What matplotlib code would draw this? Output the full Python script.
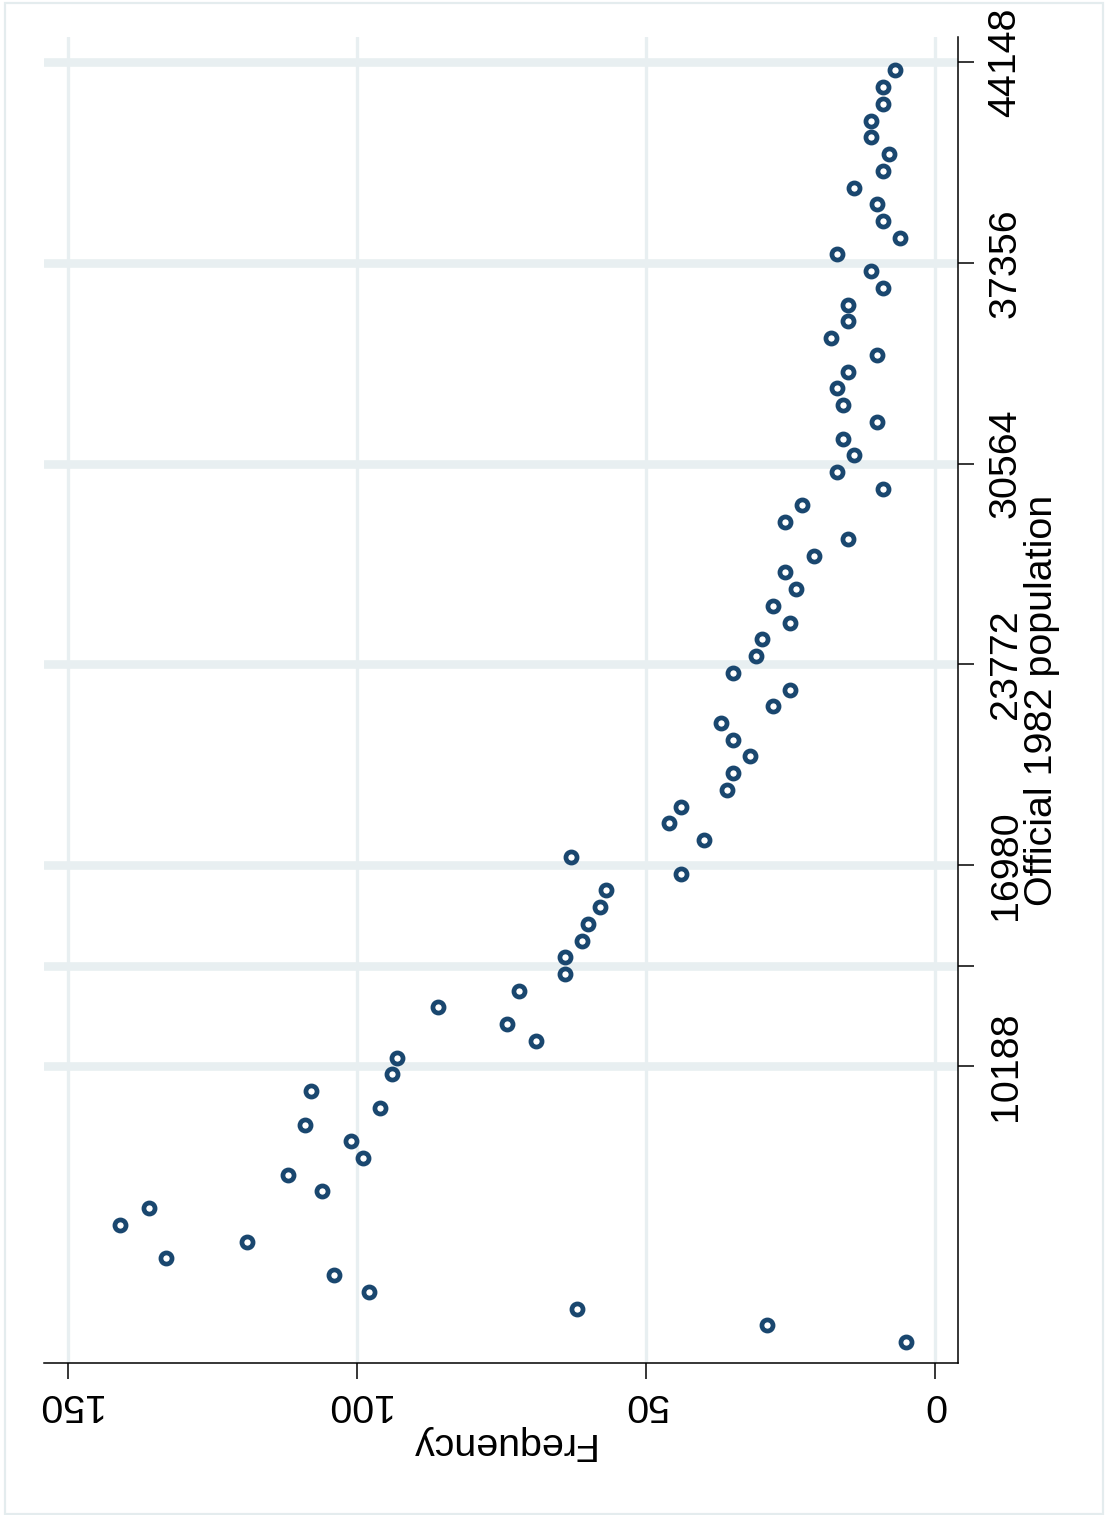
import matplotlib
matplotlib.use("Agg")
import matplotlib.pyplot as plt
from matplotlib.patches import Rectangle

# ---- data (histogram-style frequency points, bin midpoints) ----
population = [849, 1415, 1981, 2547, 3113, 3679, 4245, 4811, 5377, 5943,
              6509, 7075, 7641, 8207, 8773, 9339, 9905, 10471, 11037, 11603,
              12169, 12735, 13301, 13867, 14433, 14999, 15565, 16131, 16697, 17263,
              17829, 18395, 18961, 19527, 20093, 20659, 21225, 21791, 22357, 22923,
              23489, 24055, 24621, 25187, 25753, 26319, 26885, 27451, 28017, 28583,
              29149, 29715, 30281, 30847, 31413, 31979, 32545, 33111, 33677, 34243,
              34809, 35375, 35941, 36507, 37073, 37639, 38205, 38771, 39337, 39903,
              40469, 41035, 41601, 42167, 42733, 43299, 43865]
frequency = [5, 29, 62, 98, 104, 133, 119, 141, 136, 106,
             112, 99, 101, 109, 96, 108, 94, 93, 69, 74,
             86, 72, 64, 64, 61, 60, 58, 57, 44, 63,
             40, 46, 44, 36, 35, 32, 35, 37, 28, 25,
             35, 31, 30, 25, 28, 24, 26, 21, 15, 26,
             23, 9, 17, 14, 16, 10, 16, 17, 15, 10,
             18, 15, 15, 9, 11, 17, 6, 9, 10, 14,
             9, 8, 11, 11, 9, 9, 7]

freq_ticks = [0, 50, 100, 150]
freq_labels = ["0", "50", "100", "150"]
pop_ticks = [10188, 13584, 16980, 23772, 30564, 37356, 44148]
pop_labels = ["10188", "", "16980", "23772", "30564", "37356", "44148"]

NAVY = "#1a476f"
GRID = "#e8eff1"
FS = 28.4

plt.rcParams["font.family"] = ["Liberation Sans", "DejaVu Sans"]

W, H = 1107, 1515
fig = plt.figure(figsize=(W / 100, H / 100), dpi=100)
fig.patch.set_facecolor("white")

# outer light border
fig.add_artist(Rectangle((5 / W, 1 / H), (1103 - 5) / W, (1512 - 1) / H,
                         transform=fig.transFigure, fill=False,
                         edgecolor="#e4ecee", linewidth=1.6))

ax = fig.add_axes([44 / W, 1 - 1363 / H, 914 / W, 1326 / H])
ax.set_facecolor("white")
ax.set_axisbelow(True)

ax.plot(frequency, population, linestyle="none", marker="o",
        markersize=8.0, markeredgewidth=3.4, markeredgecolor=NAVY,
        markerfacecolor="white", zorder=3)

ax.set_xlim(154.15, -3.98)
ax.set_ylim(142, 44994)

ax.set_xticks(freq_ticks)
ax.set_xticklabels(freq_labels, rotation=180, fontsize=FS)
ax.yaxis.tick_right()
ax.set_yticks(pop_ticks)
ax.set_yticklabels(pop_labels, rotation=90, fontsize=FS, va="center")

ax.grid(axis="x", color=GRID, linewidth=2.4, solid_capstyle="round")
ax.grid(axis="y", color=GRID, linewidth=6.2, solid_capstyle="round")

for s in ["left", "top"]:
    ax.spines[s].set_visible(False)
for s in ["right", "bottom"]:
    ax.spines[s].set_color("black")
    ax.spines[s].set_linewidth(1.1)

ax.tick_params(axis="x", direction="out", length=11.5, width=1.1, pad=5.0)
ax.tick_params(axis="y", direction="out", length=11.5, width=1.1, pad=9.8,
               right=True, left=False, labelright=True, labelleft=False)

ax.set_xlabel("Frequency", rotation=180, fontsize=FS, labelpad=2)
ax.yaxis.set_label_position("right")
ax.set_ylabel("Official 1982 population", rotation=90, fontsize=FS, labelpad=0)

fig.savefig("out.png", dpi=100, facecolor="white")
